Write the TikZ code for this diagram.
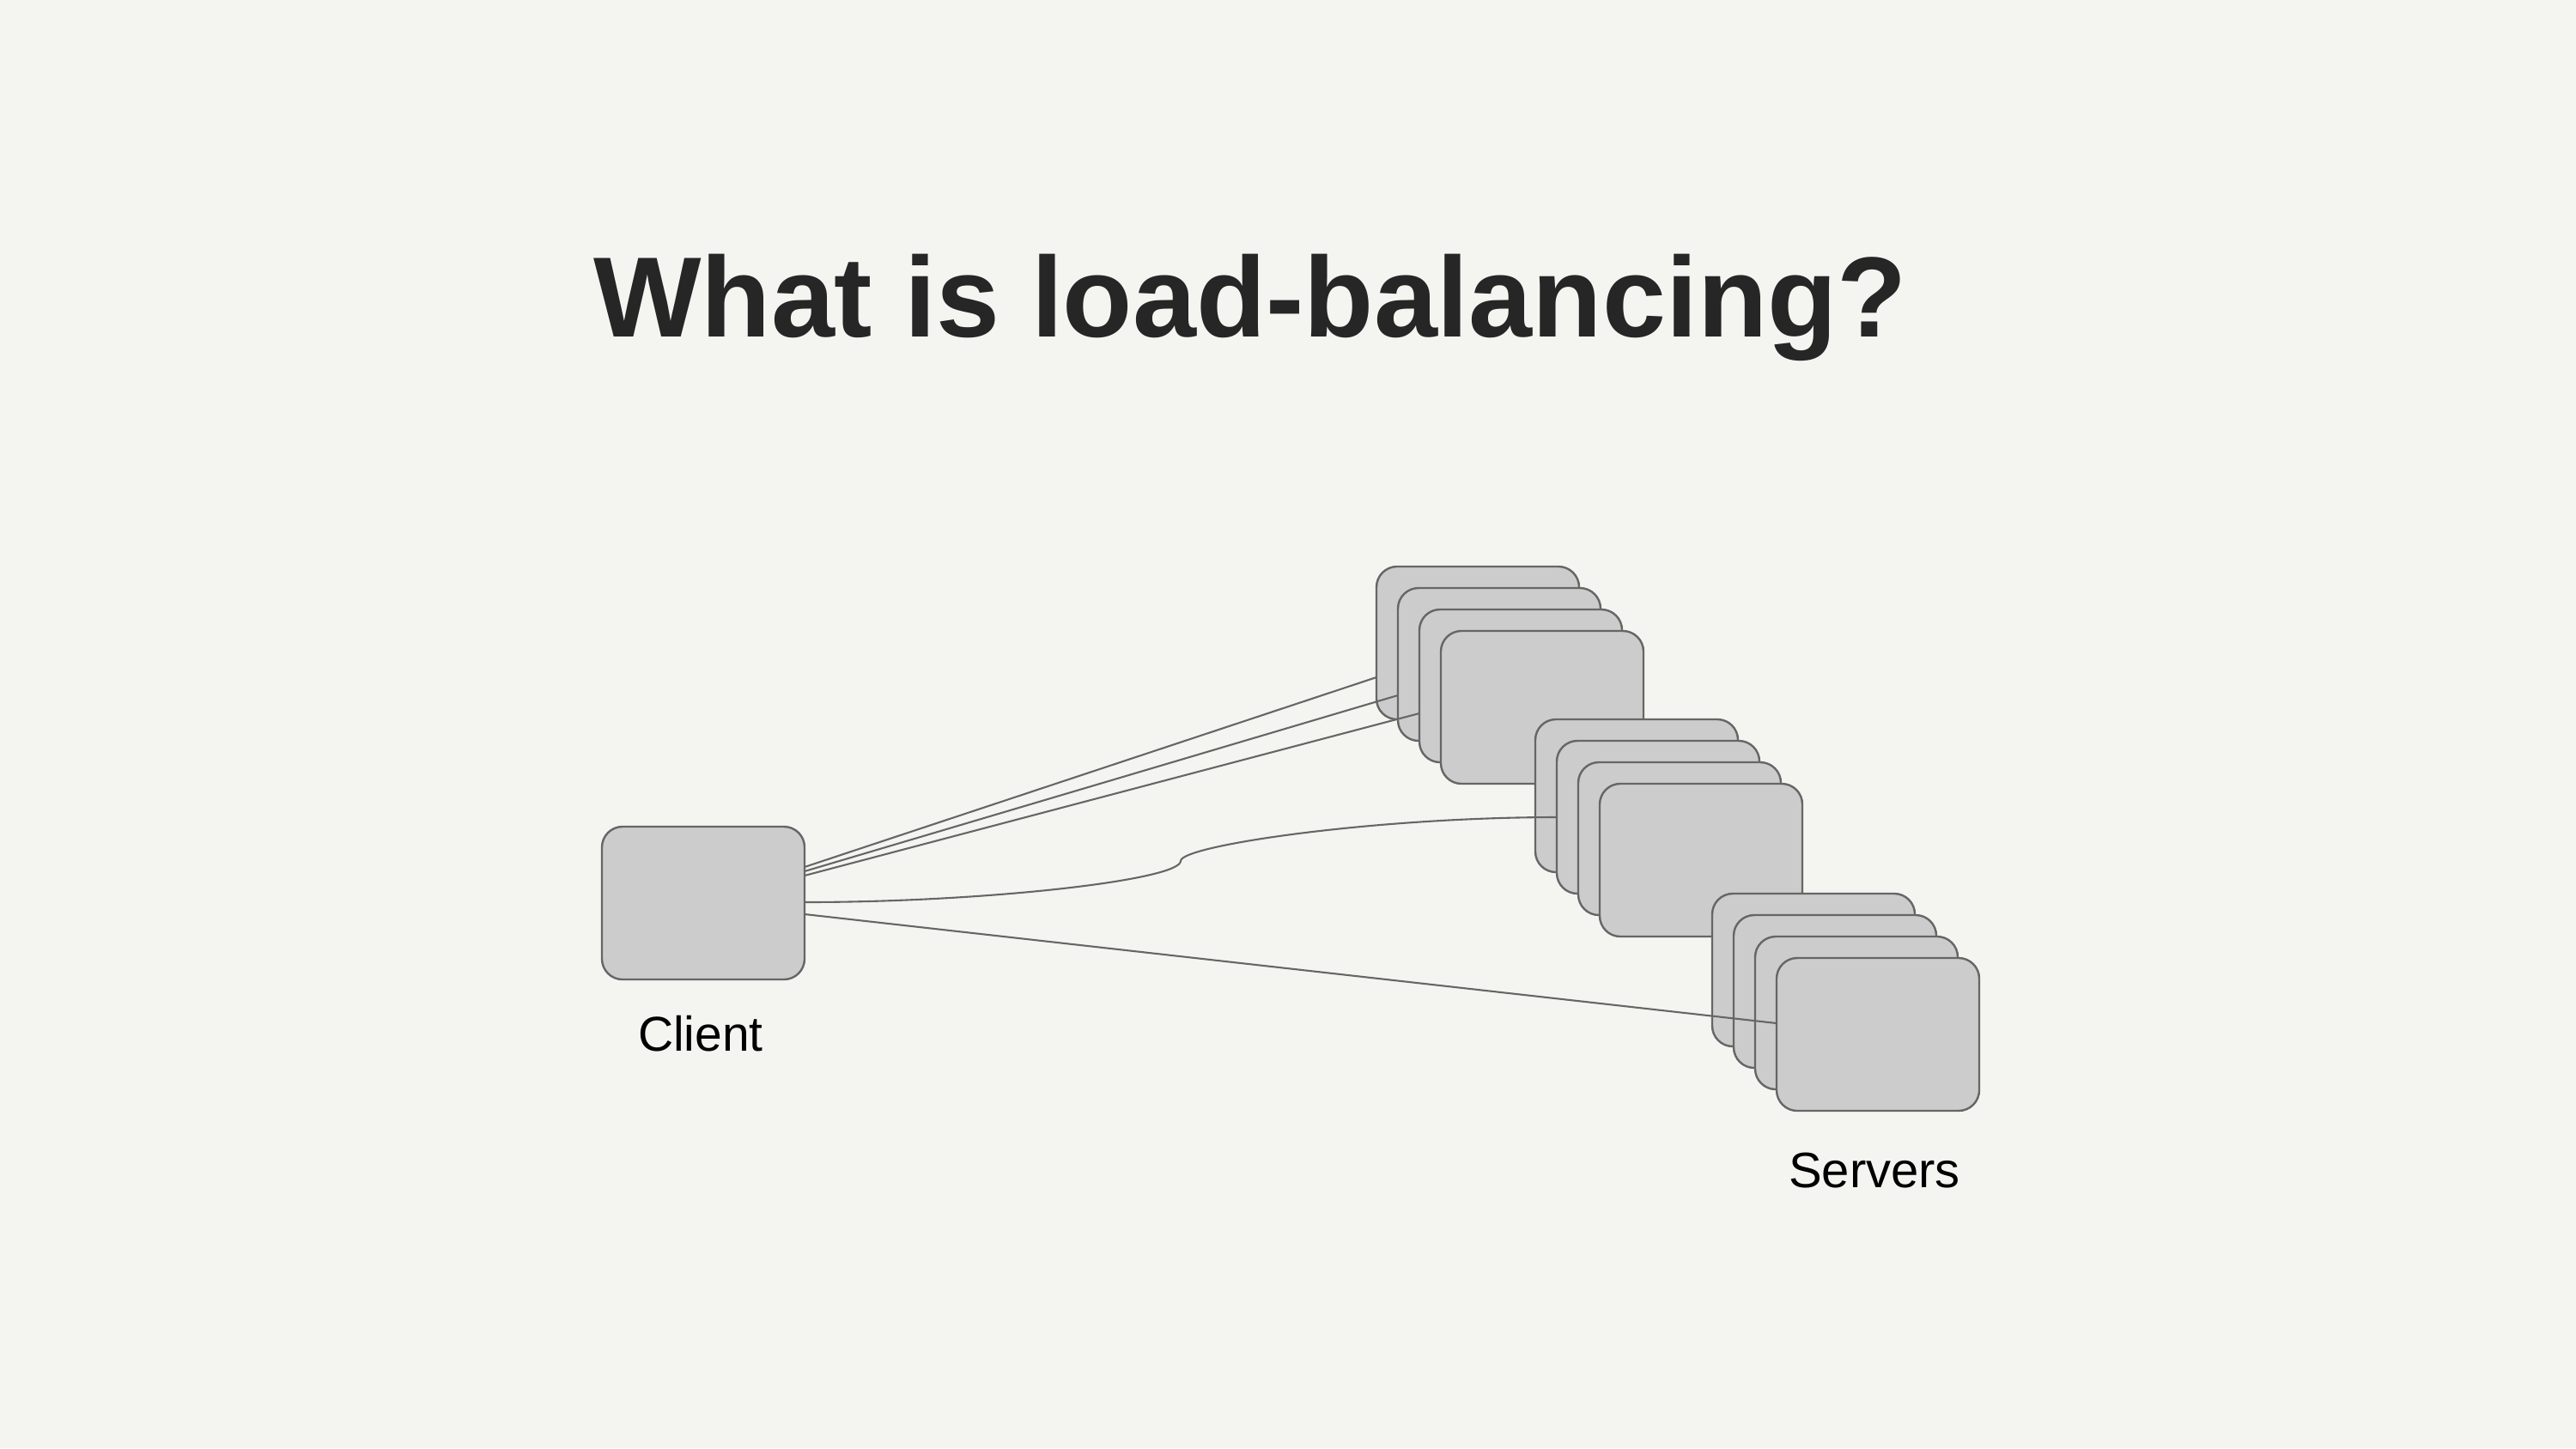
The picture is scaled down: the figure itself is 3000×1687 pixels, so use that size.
\documentclass[tikz,border=0pt]{standalone}
\usepackage{fontspec}
\setmainfont{Liberation Sans}
\definecolor{bgc}{HTML}{F4F5F0}
\definecolor{strokec}{HTML}{666666}
\definecolor{boxc}{HTML}{CCCCCC}
\definecolor{titlec}{HTML}{262626}
\tikzset{
  box/.style={draw=strokec, fill=boxc, line width=2.4pt, rounded corners=24pt,
    minimum width=236pt, minimum height=178pt, inner sep=0pt, outer sep=0pt,
    anchor=north west},
  conn/.style={draw=strokec, line width=2.1pt},
  lbl/.style={font=\fontsize{57}{68}\selectfont, text=black, anchor=base, inner sep=0pt}
}
\begin{document}
\begin{tikzpicture}[x=1pt, y=-1pt]
\fill[bgc] (0,0) rectangle (3000,1687);
\useasboundingbox (0,0) rectangle (3000,1687);

\node[anchor=base, inner sep=0pt, text=titlec, font=\bfseries\fontsize{133}{160}\selectfont] (title) at (1456,392) {What is load-balancing?};

\node[box] (client) at (701,963) {};
\node[lbl] (clientlbl) at (816,1224) {Client};

% stack 1
\node[box] (s1a) at (1603,660) {};
\draw[conn] ([yshift=42pt]client.east) -- ([yshift=-40pt]s1a.west);
\node[box] (s1b) at (1628,685) {};
\draw[conn] ([yshift=37pt]client.east) -- ([yshift=-36pt]s1b.west);
\node[box] (s1c) at (1653,710) {};
\draw[conn] ([yshift=32pt]client.east) -- ([yshift=-32pt]s1c.west);
\node[box] (s1d) at (1678,735) {};

% stack 2
\node[box] (s2a) at (1788,838) {};
\node[box] (s2b) at (1813,863) {};
\coordinate (kink) at (1375,1003);
\draw[conn] ([yshift=1pt]client.east) .. controls (1150,1051) and (1375,1025) .. (kink)
  .. controls (1375,985) and (1600,952) .. (s2b.west);
\node[box] (s2c) at (1838,888) {};
\node[box] (s2d) at (1863,913) {};

% stack 3
\node[box] (s3a) at (1994,1041) {};
\node[box] (s3b) at (2019,1066) {};
\node[box] (s3c) at (2044,1091) {};
\node[box] (s3d) at (2069,1116) {};
\draw[conn] ([yshift=-13pt]client.east) -- ([yshift=13pt]s3d.west);

\node[lbl, font=\fontsize{58}{68}\selectfont] (serverslbl) at (2183,1383) {Servers};
\end{tikzpicture}
\end{document}
